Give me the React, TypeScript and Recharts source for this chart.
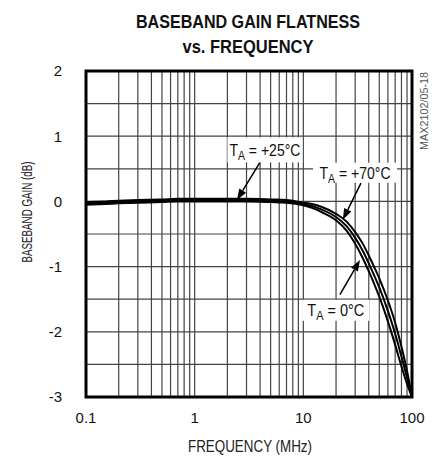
import React from "react";
import { LineChart, Line, XAxis, YAxis, CartesianGrid, ReferenceArea, ReferenceDot, ReferenceLine } from "recharts";

const freqs = [0.1, 0.15, 0.2, 0.3, 0.5, 0.7, 1, 1.5, 2, 3, 5, 7, 10, 12, 15, 20, 25, 30, 35, 40, 45, 50, 60, 70, 80, 90, 100];
const gain0C = [-0.05, -0.04, -0.03, -0.02, -0.01, 0, 0, 0, 0, 0, -0.01, -0.02, -0.06, -0.1, -0.17, -0.29, -0.45, -0.65, -0.86, -1.07, -1.27, -1.46, -1.84, -2.2, -2.53, -2.8, -3.0];
const gain25C = [-0.03, -0.02, -0.01, 0, 0.01, 0.02, 0.02, 0.02, 0.02, 0.02, 0.01, 0, -0.04, -0.07, -0.13, -0.24, -0.38, -0.56, -0.75, -0.95, -1.14, -1.32, -1.68, -2.03, -2.38, -2.7, -3.0];
const gain70C = [-0.01, 0, 0.01, 0.02, 0.03, 0.04, 0.04, 0.04, 0.04, 0.04, 0.03, 0.02, -0.02, -0.04, -0.09, -0.19, -0.31, -0.47, -0.64, -0.83, -1.01, -1.18, -1.52, -1.86, -2.23, -2.6, -3.0];

const xTicks = [0.1, 1, 10, 100];
const yTicks = [-3, -2, -1, 0, 1, 2];
const xGrid = [0.2, 0.3, 0.4, 0.5, 0.6, 0.7, 0.8, 0.9, 1, 2, 3, 4, 5, 6, 7, 8, 9, 10, 20, 30, 40, 50, 60, 70, 80, 90];
const yGrid = [-2.5, -2, -1.5, -1, -0.5, 0, 0.5, 1, 1.5];

// annotation boxes and arrows, in data coordinates
const notes = [
  { temp: "+25°C", f: 4.43, g: 0.79, w: 75, h: 25, tw: 71, from: [3.99, 0.6], to: [2.45, 0.02] },
  { temp: "+70°C", f: 29.9, g: 0.44, w: 84, h: 20, tw: 71, from: [33.9, 0.28], to: [23.1, -0.28] },
  { temp: "0°C", f: 19.9, g: -1.67, w: 67, h: 21, tw: 57, from: [21.7, -1.43], to: [33.2, -0.9] },
];

const rows = freqs.map((f, i) => ({ f, g0: gain0C[i], g25: gain25C[i], g70: gain70C[i] }));

const FONT = "'Liberation Sans', Arial, sans-serif";

const Arrow = (props: any) => {
  const { x1, y1, x2, y2 } = props;
  const a = Math.atan2(y2 - y1, x2 - x1);
  const len = 11;
  const half = 4;
  const bx = x2 - len * Math.cos(a);
  const by = y2 - len * Math.sin(a);
  const pts = [
    `${x2},${y2}`,
    `${bx + half * Math.sin(a)},${by - half * Math.cos(a)}`,
    `${bx - half * Math.sin(a)},${by + half * Math.cos(a)}`,
  ].join(" ");
  return (
    <g>
      <line x1={x1} y1={y1} x2={bx} y2={by} stroke="#000" strokeWidth={1.5} />
      <polygon points={pts} fill="#000" />
    </g>
  );
};

const NoteBox = (w: number, h: number, tw: number, temp: string) => (props: any) => {
  const { cx, cy } = props;
  return (
    <g>
      <rect x={cx - w / 2} y={cy - h / 2} width={w} height={h} fill="#fff" />
      <text x={cx - tw / 2} y={cy + 6} fontFamily={FONT} fontSize={16} fill="#111" textLength={tw} lengthAdjust="spacingAndGlyphs">
        T<tspan fontSize={12} dy={4}>A</tspan>
        <tspan dy={-4}>{` = ${temp}`}</tspan>
      </text>
    </g>
  );
};

export default function App() {
  return (
    <div style={{ position: "absolute", left: 0, top: 0, width: 432, height: 458, background: "#fff" }}>
      <LineChart width={432} height={458} data={rows} margin={{ top: 71, right: 20, bottom: 0, left: 0 }}>
        <CartesianGrid stroke="#444" strokeWidth={1.2} verticalValues={xGrid} horizontalValues={yGrid} />
        <XAxis
          dataKey="f"
          type="number"
          scale="log"
          domain={[0.1, 100]}
          ticks={xTicks}
          allowDataOverflow
          interval={0}
          tickLine={false}
          axisLine={false}
          tickSize={0}
          tickMargin={15}
          height={61}
          tick={{ fill: "#111", fontSize: 15, fontFamily: FONT }}
          tickFormatter={(v: number) => String(v)}
        />
        <YAxis
          type="number"
          domain={[-3, 2]}
          ticks={yTicks}
          allowDataOverflow
          interval={0}
          tickLine={false}
          axisLine={false}
          tickSize={0}
          tickMargin={24}
          width={86}
          tick={{ fill: "#111", fontSize: 15, fontFamily: FONT }}
        />
        <Line type="monotone" dataKey="g0" stroke="#000" strokeWidth={2} dot={false} isAnimationActive={false} />
        <Line type="monotone" dataKey="g25" stroke="#000" strokeWidth={2} dot={false} isAnimationActive={false} />
        <Line type="monotone" dataKey="g70" stroke="#000" strokeWidth={2} dot={false} isAnimationActive={false} />
        <ReferenceArea x1={0.1} x2={100} y1={-3} y2={2} fill="none" stroke="#000" strokeWidth={3} ifOverflow="visible" />
        {notes.map((n) => (
          <ReferenceDot key={n.temp} x={n.f} y={n.g} r={1} ifOverflow="visible" shape={NoteBox(n.w, n.h, n.tw, n.temp)} />
        ))}
        {notes.map((n) => (
          <ReferenceLine
            key={"a" + n.temp}
            segment={[{ x: n.from[0], y: n.from[1] }, { x: n.to[0], y: n.to[1] }]}
            ifOverflow="visible"
            shape={Arrow}
          />
        ))}
      </LineChart>
      <svg style={{ position: "absolute", left: 0, top: 0 }} width={432} height={458}>
        <g fontFamily={FONT} fontWeight="bold" fontSize={18} fill="#111" textAnchor="middle">
          <text x={248} y={28} textLength={224} lengthAdjust="spacingAndGlyphs">BASEBAND GAIN FLATNESS</text>
          <text x={248} y={53} textLength={131} lengthAdjust="spacingAndGlyphs">vs. FREQUENCY</text>
        </g>
        <text x={250} y={452} textAnchor="middle" fontFamily={FONT} fontSize={16} fill="#222" textLength={124} lengthAdjust="spacingAndGlyphs">FREQUENCY (MHz)</text>
        <text x={32} y={212} textAnchor="middle" fontFamily={FONT} fontSize={14.5} fill="#222" textLength={101} lengthAdjust="spacingAndGlyphs" transform="rotate(-90 32 212)">BASEBAND GAIN (dB)</text>
        <text x={428} y={72} textAnchor="end" fontFamily={FONT} fontSize={10} fill="#555" textLength={78} lengthAdjust="spacingAndGlyphs" transform="rotate(-90 428 72)">MAX2102/05-18</text>
      </svg>
    </div>
  );
}
